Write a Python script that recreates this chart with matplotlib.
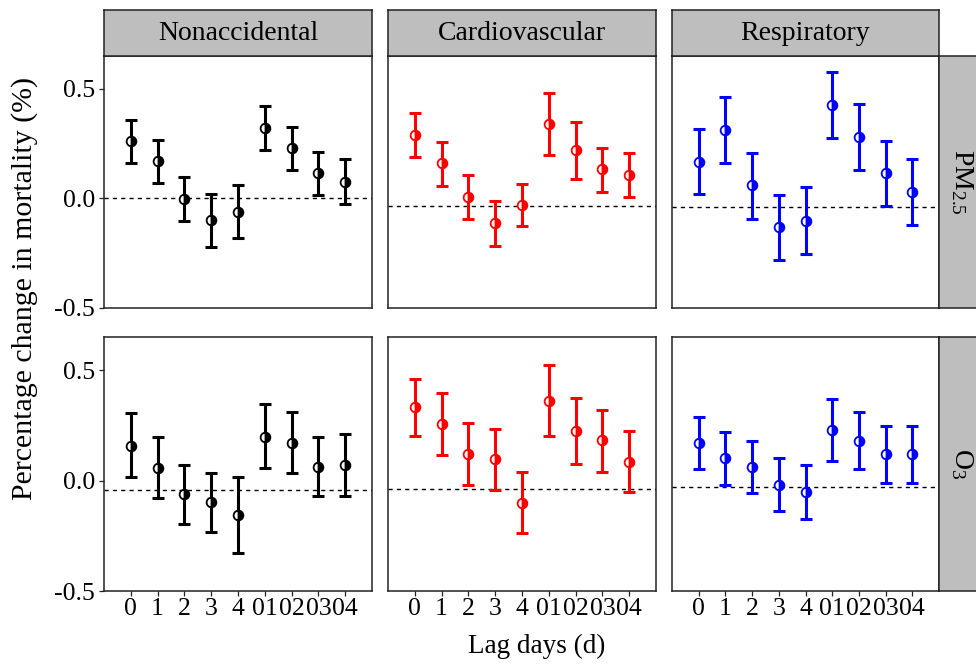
import numpy as np
import matplotlib
matplotlib.use("Agg")
from matplotlib import pyplot as plt

plt.rcParams['font.family'] = ['Liberation Serif', 'DejaVu Serif']
plt.rcParams['mathtext.fontset'] = 'custom'
plt.rcParams['mathtext.rm'] = 'Liberation Serif'
plt.rcParams['mathtext.it'] = 'Liberation Serif'

lags = ["0", "1", "2", "3", "4", "01", "02", "03", "04"]
causes = ["Nonaccidental", "Cardiovascular", "Respiratory"]
pollutants = ["PM$_{2.5}$", "O$_3$"]
colors = ["#000000", "#FF0000", "#0000FF"]

# estimates, lower and upper CI, row = pollutant, col = cause
pm_est = [
    [0.26, 0.17, -0.004, -0.10, -0.06, 0.32, 0.23, 0.114, 0.075],
    [0.288, 0.160, 0.008, -0.112, -0.029, 0.341, 0.223, 0.134, 0.107],
    [0.167, 0.314, 0.061, -0.131, -0.101, 0.427, 0.282, 0.116, 0.029],
]
pm_low = [
    [0.160, 0.072, -0.105, -0.221, -0.182, 0.220, 0.128, 0.015, -0.024],
    [0.187, 0.058, -0.096, -0.215, -0.128, 0.196, 0.090, 0.028, 0.008],
    [0.019, 0.162, -0.092, -0.279, -0.252, 0.278, 0.132, -0.034, -0.122],
]
pm_up = [
    [0.359, 0.268, 0.096, 0.019, 0.061, 0.420, 0.327, 0.214, 0.178],
    [0.389, 0.258, 0.105, -0.013, 0.067, 0.480, 0.350, 0.230, 0.208],
    [0.317, 0.463, 0.208, 0.017, 0.052, 0.577, 0.432, 0.264, 0.182],
]
o3_est = [
    [0.158, 0.057, -0.063, -0.098, -0.158, 0.199, 0.170, 0.060, 0.071],
    [0.332, 0.256, 0.122, 0.098, -0.100, 0.359, 0.226, 0.182, 0.086],
    [0.170, 0.101, 0.060, -0.018, -0.051, 0.231, 0.180, 0.121, 0.121],
]
o3_low = [
    [0.014, -0.080, -0.198, -0.231, -0.329, 0.057, 0.033, -0.072, -0.068],
    [0.201, 0.115, -0.020, -0.042, -0.237, 0.201, 0.075, 0.039, -0.053],
    [0.051, -0.020, -0.057, -0.140, -0.172, 0.089, 0.051, -0.010, -0.010],
]
o3_up = [
    [0.306, 0.196, 0.071, 0.033, 0.014, 0.348, 0.311, 0.195, 0.211],
    [0.460, 0.397, 0.261, 0.234, 0.038, 0.522, 0.374, 0.320, 0.225],
    [0.287, 0.219, 0.181, 0.100, 0.071, 0.368, 0.311, 0.249, 0.249],
]
# dashed reference line level in each panel
ref_lines = [[0.0, -0.036, -0.037], [-0.041, -0.038, -0.029]]

est = [pm_est, o3_est]
low = [pm_low, o3_low]
up = [pm_up, o3_up]

W, H = 976, 664
fig = plt.figure(figsize=(W / 100, H / 100), dpi=100)


def px_axes(x0, y0, x1, y1):
    return fig.add_axes([x0 / W, 1 - y1 / H, (x1 - x0) / W, (y1 - y0) / H])


col_x = [(104, 372), (388, 656), (672, 939)]
row_y = [(56, 308), (337, 591)]
strip_gray = "#BEBEBE"
edge = "#222222"

for r in range(2):
    for c in range(3):
        ax = px_axes(col_x[c][0], row_y[r][0], col_x[c][1], row_y[r][1])
        x = np.arange(1, len(lags) + 1)
        e = np.array(est[r][c])
        lo = np.array(low[r][c])
        hi = np.array(up[r][c])
        ax.axhline(ref_lines[r][c], color="black", lw=1.0, ls=(0, (3, 3)), zorder=1)
        ax.errorbar(x, e, yerr=[e - lo, hi - e], fmt="none", ecolor=colors[c],
                    elinewidth=2.2, capsize=4.2, capthick=2.2, zorder=2)
        ax.plot(x, e, "o", ms=7, color=colors[c], mec=colors[c], mew=1.3,
                fillstyle="right", markerfacecoloralt="white", zorder=3)
        ax.set_xlim(0, 10)
        ax.set_ylim(-0.5, 0.65)
        for s in ax.spines.values():
            s.set_color(edge)
            s.set_linewidth(1.1)
        ax.set_yticks([-0.5, 0.0, 0.5])
        ax.set_xticks(x)
        ax.tick_params(direction="out", length=3.5, width=0.9, color=edge)
        if c == 0:
            ax.set_yticklabels(["-0.5", "0.0", "0.5"], fontsize=18.5)
            ax.tick_params(axis="y", pad=3)
        else:
            ax.tick_params(axis="y", left=False, labelleft=False)
        if r == 1:
            ax.set_xticklabels(lags, fontsize=18.5)
            ax.tick_params(axis="x", pad=1.5)
        else:
            ax.tick_params(axis="x", bottom=False, labelbottom=False)

# top strips
for c in range(3):
    sax = px_axes(col_x[c][0], 10, col_x[c][1], 56)
    sax.set_facecolor(strip_gray)
    sax.set_xticks([])
    sax.set_yticks([])
    for s in sax.spines.values():
        s.set_color(edge)
        s.set_linewidth(1.1)
    sax.text(0.5, 0.5, causes[c], ha="center", va="center", fontsize=20,
             transform=sax.transAxes)

# right strips
for r in range(2):
    sax = px_axes(939, row_y[r][0], 990, row_y[r][1])
    sax.set_facecolor(strip_gray)
    sax.set_xticks([])
    sax.set_yticks([])
    for s in sax.spines.values():
        s.set_color(edge)
        s.set_linewidth(1.1)
    fig.text(962 / W, 1 - (row_y[r][0] + row_y[r][1]) / 2 / H, pollutants[r],
             rotation=-90, ha="center", va="center", fontsize=20)

fig.text(25 / W, 1 - 288 / H, "Percentage change in mortality (%)",
         rotation=90, ha="center", va="center", fontsize=21.5)
fig.text(537 / W, 1 - 646 / H, "Lag days (d)", ha="center", va="center",
         fontsize=19.5)

fig.savefig("out.png", dpi=100)
